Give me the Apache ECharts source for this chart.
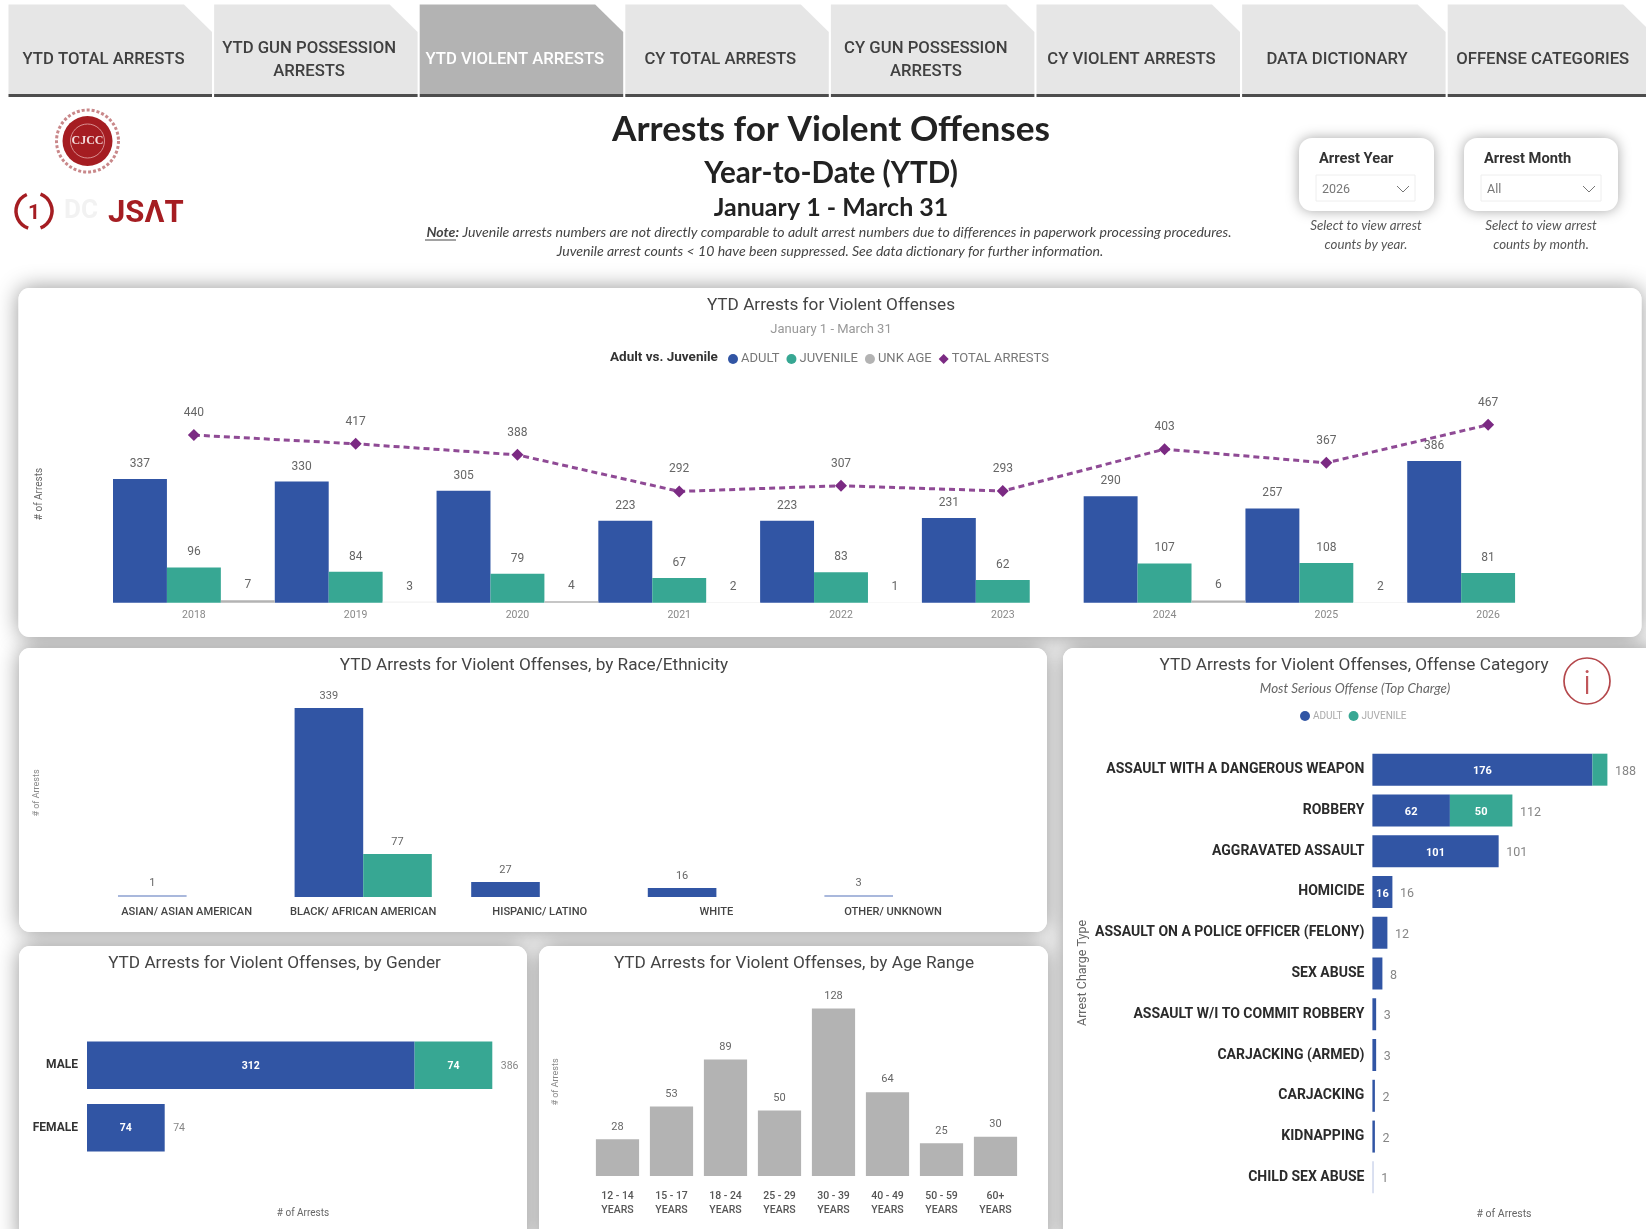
<!DOCTYPE html>
<html><head><meta charset="utf-8">
<style>html,body{margin:0;padding:0;background:#fff}#c{width:1646px;height:1229px;filter:blur(0.6px)}</style>
<script src="https://cdn.jsdelivr.net/npm/echarts@6/dist/echarts.min.js"></script>
</head><body><div id="c"></div>
<script>
// ---- data ----
const tabLabels = ['YTD TOTAL ARRESTS','YTD GUN POSSESSION\nARRESTS','YTD VIOLENT ARRESTS','CY TOTAL ARRESTS','CY GUN POSSESSION\nARRESTS','CY VIOLENT ARRESTS','DATA DICTIONARY','OFFENSE CATEGORIES'];
const years = ['2018','2019','2020','2021','2022','2023','2024','2025','2026'];
const yearAdult = [337,330,305,223,223,231,290,257,386];
const yearJuvenile = [96,84,79,67,83,62,107,108,81];
const yearUnknown = [7,3,4,2,1,null,6,2,null];
const yearTotal = [440,417,388,292,307,293,403,367,467];
const raceCats = ['ASIAN/ ASIAN AMERICAN','BLACK/ AFRICAN AMERICAN','HISPANIC/ LATINO','WHITE','OTHER/ UNKNOWN'];
const raceAdult = [1,339,27,16,3];
const raceJuvenile = [null,77,null,null,null];
const genderCats = ['MALE','FEMALE'];
const genderAdult = [312,74];
const genderJuvenile = [74,null];
const genderTotal = [386,74];
const ageCats = ['12 - 14\nYEARS','15 - 17\nYEARS','18 - 24\nYEARS','25 - 29\nYEARS','30 - 39\nYEARS','40 - 49\nYEARS','50 - 59\nYEARS','60+\nYEARS'];
const ageValues = [28,53,89,50,128,64,25,30];
const offenseCats = ['ASSAULT WITH A DANGEROUS WEAPON','ROBBERY','AGGRAVATED ASSAULT','HOMICIDE','ASSAULT ON A POLICE OFFICER (FELONY)','SEX ABUSE','ASSAULT W/I TO COMMIT ROBBERY','CARJACKING (ARMED)','CARJACKING','KIDNAPPING','CHILD SEX ABUSE'];
const offenseAdult = [176,62,101,16,12,8,3,3,2,2,1];
const offenseJuvenile = [12,50,null,null,null,null,null,null,null,null,null];
const offenseTotal = [188,112,101,16,12,8,3,3,2,2,1];

// ---- style ----
const BLUE='#3155a4', TEAL='#37a793', GRAY='#b3b3b3', PURPLE='#7b2a83', RED='#a51d22';
const UI='Roboto, sans-serif', HEAD='Lato, sans-serif', NARROW='"Liberation Sans Narrow", Roboto, sans-serif';

const g=[];
const text=(x,y,t,font,fill,align='center',extra={},el={})=>g.push(Object.assign({type:'text',x,y,z:5,style:Object.assign({text:t,font,fill,textAlign:align,textVerticalAlign:'middle'},extra)},el));

// panels : shadows first, then clean white faces
const panels=[[18.5,288,1623,349],[19,648,1028,284],[19,946,508,300],[539,946,509,300],[1063,648,600,598]];
panels.forEach(p=>g.push({type:'rect',z:0,shape:{x:p[0],y:p[1],width:p[2],height:p[3],r:11},style:{fill:'#fff',shadowBlur:22,shadowColor:'rgba(0,0,0,0.42)'}}));
panels.forEach(p=>g.push({type:'rect',z:1,shape:{x:p[0],y:p[1],width:p[2],height:p[3],r:11},style:{fill:'#fff'}}));

// tabs
tabLabels.forEach((t,i)=>{
  const x=8.5+205.6*i, w=203.5, sel=i===2;
  g.push({type:'polygon',z:2,shape:{points:[[x,4.5],[x+w-28,4.5],[x+w,32],[x+w,94],[x,94]]},style:{fill:sel?'#b3b3b3':'#e6e6e6'}});
  g.push({type:'rect',z:2,shape:{x,y:94,width:w,height:3},style:{fill:'#4d4d4d'}});
  text(x+95,t.includes('\n')?60.5:60,t,'500 16.7px '+UI,sel?'#fff':'#404040','center',{lineHeight:23});
});

// logos
g.push({type:'circle',z:2,shape:{cx:87.5,cy:141,r:31},style:{fill:'none',stroke:'#c9888a',lineWidth:3,lineDash:[3,2]}});
g.push({type:'circle',z:2,shape:{cx:87.5,cy:141,r:25},style:{fill:RED}});
g.push({type:'circle',z:2,shape:{cx:87.5,cy:141,r:17},style:{fill:'none',stroke:'#d98f91',lineWidth:1}});
text(87.5,141,'CJCC','700 12px "Liberation Serif", serif','#f3dcdc');
[[1.9,4.3],[-1.2,1.2]].forEach(a=>g.push({type:'arc',z:2,shape:{cx:34,cy:211,r:18,startAngle:a[0],endAngle:a[1]},style:{fill:'none',stroke:RED,lineWidth:3.5}}));
text(34,214,'1','700 21px '+UI,RED);
text(64,211,'DC','700 26px '+UI,'#f2f2f2','left');
text(108,214,'JSΛT','700 31px '+UI,RED,'left');

// page header
text(831,129.5,'Arrests for Violent Offenses','700 35.2px '+HEAD,'#222');
text(831,173,'Year-to-Date (YTD)','700 29.6px '+HEAD,'#222');
text(831,208,'January 1 - March 31','700 25px '+HEAD,'#222');
text(829,232,'{b|Note:} Juvenile arrests numbers are not directly comparable to adult arrest numbers due to differences in paperwork processing procedures.','italic 14.1px '+HEAD,'#444','center',{rich:{b:{font:'italic 700 14.1px '+HEAD,fill:'#444'}}});
text(830,251,'Juvenile arrest counts < 10 have been suppressed. See data dictionary for further information.','italic 14.1px '+HEAD,'#444');
g.push({type:'rect',z:5,shape:{x:425,y:239.5,width:31,height:1},style:{fill:'#444'}});

// slicers
[[1299,135,1319,'Arrest Year',1316,99,'2026',1366,'counts by year.'],[1464,154,1484,'Arrest Month',1481,120,'All',1541,'counts by month.']].forEach(s=>{
  g.push({type:'rect',z:2,shape:{x:s[0],y:138,width:s[1],height:73,r:13},style:{fill:'#fff',shadowBlur:13,shadowColor:'rgba(0,0,0,0.35)'}});
  text(s[2],159,s[3],'700 14.7px '+UI,'#333','left');
  g.push({type:'rect',z:3,shape:{x:s[4],y:175,width:s[5],height:26},style:{fill:'#fff',stroke:'#eeeeee',lineWidth:1}});
  text(s[4]+6,190,s[6],'12.5px '+UI,'#777','left');
  const cx=s[4]+s[5]-12;
  g.push({type:'polyline',z:4,shape:{points:[[cx-6,186],[cx,192],[cx+6,186]]},style:{fill:'none',stroke:'#777',lineWidth:1}});
  text(s[7],226,'Select to view arrest','italic 13.3px '+HEAD,'#555');
  text(s[7],245,s[8],'italic 13.3px '+HEAD,'#555');
});

// panel headings
const PT='17.2px '+UI;
text(831,306,'YTD Arrests for Violent Offenses',PT,'#444');
text(831,330,'January 1 - March 31','13px '+NARROW,'#999');
text(610,357.7,'Adult vs. Juvenile','700 13.5px '+UI,'#333','left');
text(534,666,'YTD Arrests for Violent Offenses, by Race/Ethnicity',PT,'#444');
text(274.5,964,'YTD Arrests for Violent Offenses, by Gender',PT,'#444');
text(794,964,'YTD Arrests for Violent Offenses, by Age Range',PT,'#444');
text(1354,666,'YTD Arrests for Violent Offenses, Offense Category',PT,'#444');
text(1355,689,'Most Serious Offense (Top Charge)','italic 13.4px '+HEAD,'#666');

// axis captions
const vert=(x,y,t,size,col)=>text(0,0,t,size+'px '+UI,col,'center',{},{x,y,rotation:Math.PI/2});
vert(39,494,'# of Arrests',10,'#666');
vert(37,793,'# of Arrests',9,'#888');
vert(556,1082,'# of Arrests',9,'#888');
vert(1083,973,'Arrest Charge Type',12.5,'#666');
text(303,1213,'# of Arrests','10px '+UI,'#666');
text(1504,1214,'# of Arrests','10.5px '+UI,'#666');

// info icon
g.push({type:'circle',z:3,shape:{cx:1587,cy:681,r:23},style:{fill:'none',stroke:'#b4474b',lineWidth:1.7}});
g.push({type:'rect',z:3,shape:{x:1586,y:676,width:2.2,height:18},style:{fill:'#c0565a'}});
g.push({type:'circle',z:3,shape:{cx:1587.1,cy:671.5,r:1.5},style:{fill:'#c0565a'}});

// ---- chart helpers ----
const LBL='#666';
const hidden=(o)=>Object.assign({type:'value',show:false,min:0,splitLine:{show:false}},o);
const cat=(data,o,lab)=>Object.assign({type:'category',z:4,data,axisLine:{show:false},axisTick:{show:false},axisLabel:Object.assign({interval:0},lab)},o);
const barSeries=(name,data,color,x,y,o)=>Object.assign({type:'bar',name,data,xAxisIndex:x,yAxisIndex:y,itemStyle:{color},z:3},o);
const topLabel=(size,dist)=>({show:true,position:'top',distance:dist,fontSize:size,fontFamily:NARROW,color:LBL});
const inLabel=(size,fn,off)=>({show:true,position:'inside',offset:[0,off||0],fontSize:size,fontWeight:700,fontFamily:UI,color:'#fff',formatter:fn});
const totals=(name,vals,idx,size,dist,off)=>({type:'scatter',name,data:vals.map((v,i)=>[v,i]),xAxisIndex:idx,yAxisIndex:idx,symbolSize:1,itemStyle:{color:'rgba(0,0,0,0)'},silent:true,z:4,
  label:{show:true,position:'right',distance:dist,offset:[0,off],fontSize:size,fontFamily:UI,color:LBL,formatter:p=>p.value[0]}});

const option={
  animation:false,
  backgroundColor:'#fff',
  graphic:{elements:g},
  legend:[
    {left:723,top:347.5,itemWidth:10,itemHeight:10,itemGap:7,textStyle:{fontSize:13,color:'#777',fontFamily:NARROW,padding:[0,0,0,-2]},
     data:[{name:'ADULT',icon:'circle',itemStyle:{color:BLUE}},{name:'JUVENILE',icon:'circle',itemStyle:{color:TEAL}},{name:'UNK AGE',icon:'circle',itemStyle:{color:GRAY}},{name:'TOTAL ARRESTS',icon:'diamond',itemStyle:{color:PURPLE}}]},
    {left:1295,top:706,itemWidth:10,itemHeight:10,itemGap:6,textStyle:{fontSize:10,color:'#aaa',fontFamily:NARROW,padding:[0,0,0,-2]},
     data:[{name:'ADULT',icon:'circle',itemStyle:{color:BLUE}},{name:'JUVENILE',icon:'circle',itemStyle:{color:TEAL}}]}
  ],
  grid:[
    {left:113,width:1456,top:400,height:202.7},
    {left:98.3,width:883,top:700,height:197},
    {left:87,width:420,top:1034,height:125},
    {left:590.5,width:432,top:1000,height:176},
    {left:1372.4,width:250,top:749.3,height:448.4}
  ],
  xAxis:[
    cat(years,{gridIndex:0},{margin:7,fontSize:10.5,color:'#888',fontFamily:NARROW}),
    cat(raceCats,{gridIndex:1},{margin:10,fontSize:11.1,fontWeight:500,color:'#444',fontFamily:UI}),
    hidden({gridIndex:2,max:400}),
    cat(ageCats,{gridIndex:3},{margin:13,fontSize:10.5,lineHeight:14,fontWeight:500,color:'#555',fontFamily:UI}),
    hidden({gridIndex:4,max:200})
  ],
  yAxis:[
    hidden({gridIndex:0,max:552.3}),
    hidden({gridIndex:1,max:353.4}),
    cat(genderCats,{gridIndex:2,inverse:true},{margin:9,fontSize:12,fontWeight:700,color:'#333',fontFamily:UI}),
    hidden({gridIndex:3,max:134.4}),
    cat(offenseCats,{gridIndex:4,inverse:true},{margin:8,fontSize:14,fontWeight:700,color:'#2b2b2b',fontFamily:UI}),
    hidden({gridIndex:0,max:532})
  ],
  series:[
    barSeries('ADULT',yearAdult,BLUE,0,0,{barGap:0,barCategoryGap:0,label:topLabel(12,9)}),
    barSeries('JUVENILE',yearJuvenile,TEAL,0,0,{label:topLabel(12,9)}),
    barSeries('UNK AGE',yearUnknown,p=>p.value<4?'#f2f2f2':GRAY,0,0,{label:topLabel(12,9)}),
    {type:'line',name:'TOTAL ARRESTS',data:yearTotal,xAxisIndex:0,yAxisIndex:5,z:4,symbol:'diamond',symbolSize:12,
      lineStyle:{color:PURPLE,width:3,type:[6,4],opacity:.85},itemStyle:{color:PURPLE},label:{show:true,position:'top',distance:10,fontSize:12,fontFamily:NARROW,color:LBL}},

    barSeries('ADULT',raceAdult,p=>p.value<=3?'#a9b8dc':BLUE,1,1,{barGap:0,barCategoryGap:'22.3%',barMinHeight:2,label:topLabel(11,6)}),
    barSeries('JUVENILE',raceJuvenile,TEAL,1,1,{label:topLabel(11,6)}),

    barSeries('ADULT',genderAdult,BLUE,2,2,{stack:'g',barWidth:47.5,label:inLabel(10.5,undefined,1)}),
    barSeries('JUVENILE',genderJuvenile,TEAL,2,2,{stack:'g',barWidth:47.5,label:inLabel(10.5,undefined,1)}),
    totals('Gender total',genderTotal,2,10.5,8,1),

    barSeries('AGE',ageValues,GRAY,3,3,{barWidth:'80%',label:topLabel(11,7)}),

    barSeries('ADULT',offenseAdult,p=>p.value<=1?'#c4cee8':BLUE,4,4,{stack:'o',barWidth:32,label:inLabel(11,p=>p.value>=16?p.value:'',2)}),
    barSeries('JUVENILE',offenseJuvenile,TEAL,4,4,{stack:'o',barWidth:32,label:inLabel(11,p=>p.value>=16?p.value:'',2)}),
    totals('Offense total',offenseTotal,4,12.5,7,2)
  ]
};
echarts.init(document.getElementById('c')).setOption(option);
</script></body></html>
